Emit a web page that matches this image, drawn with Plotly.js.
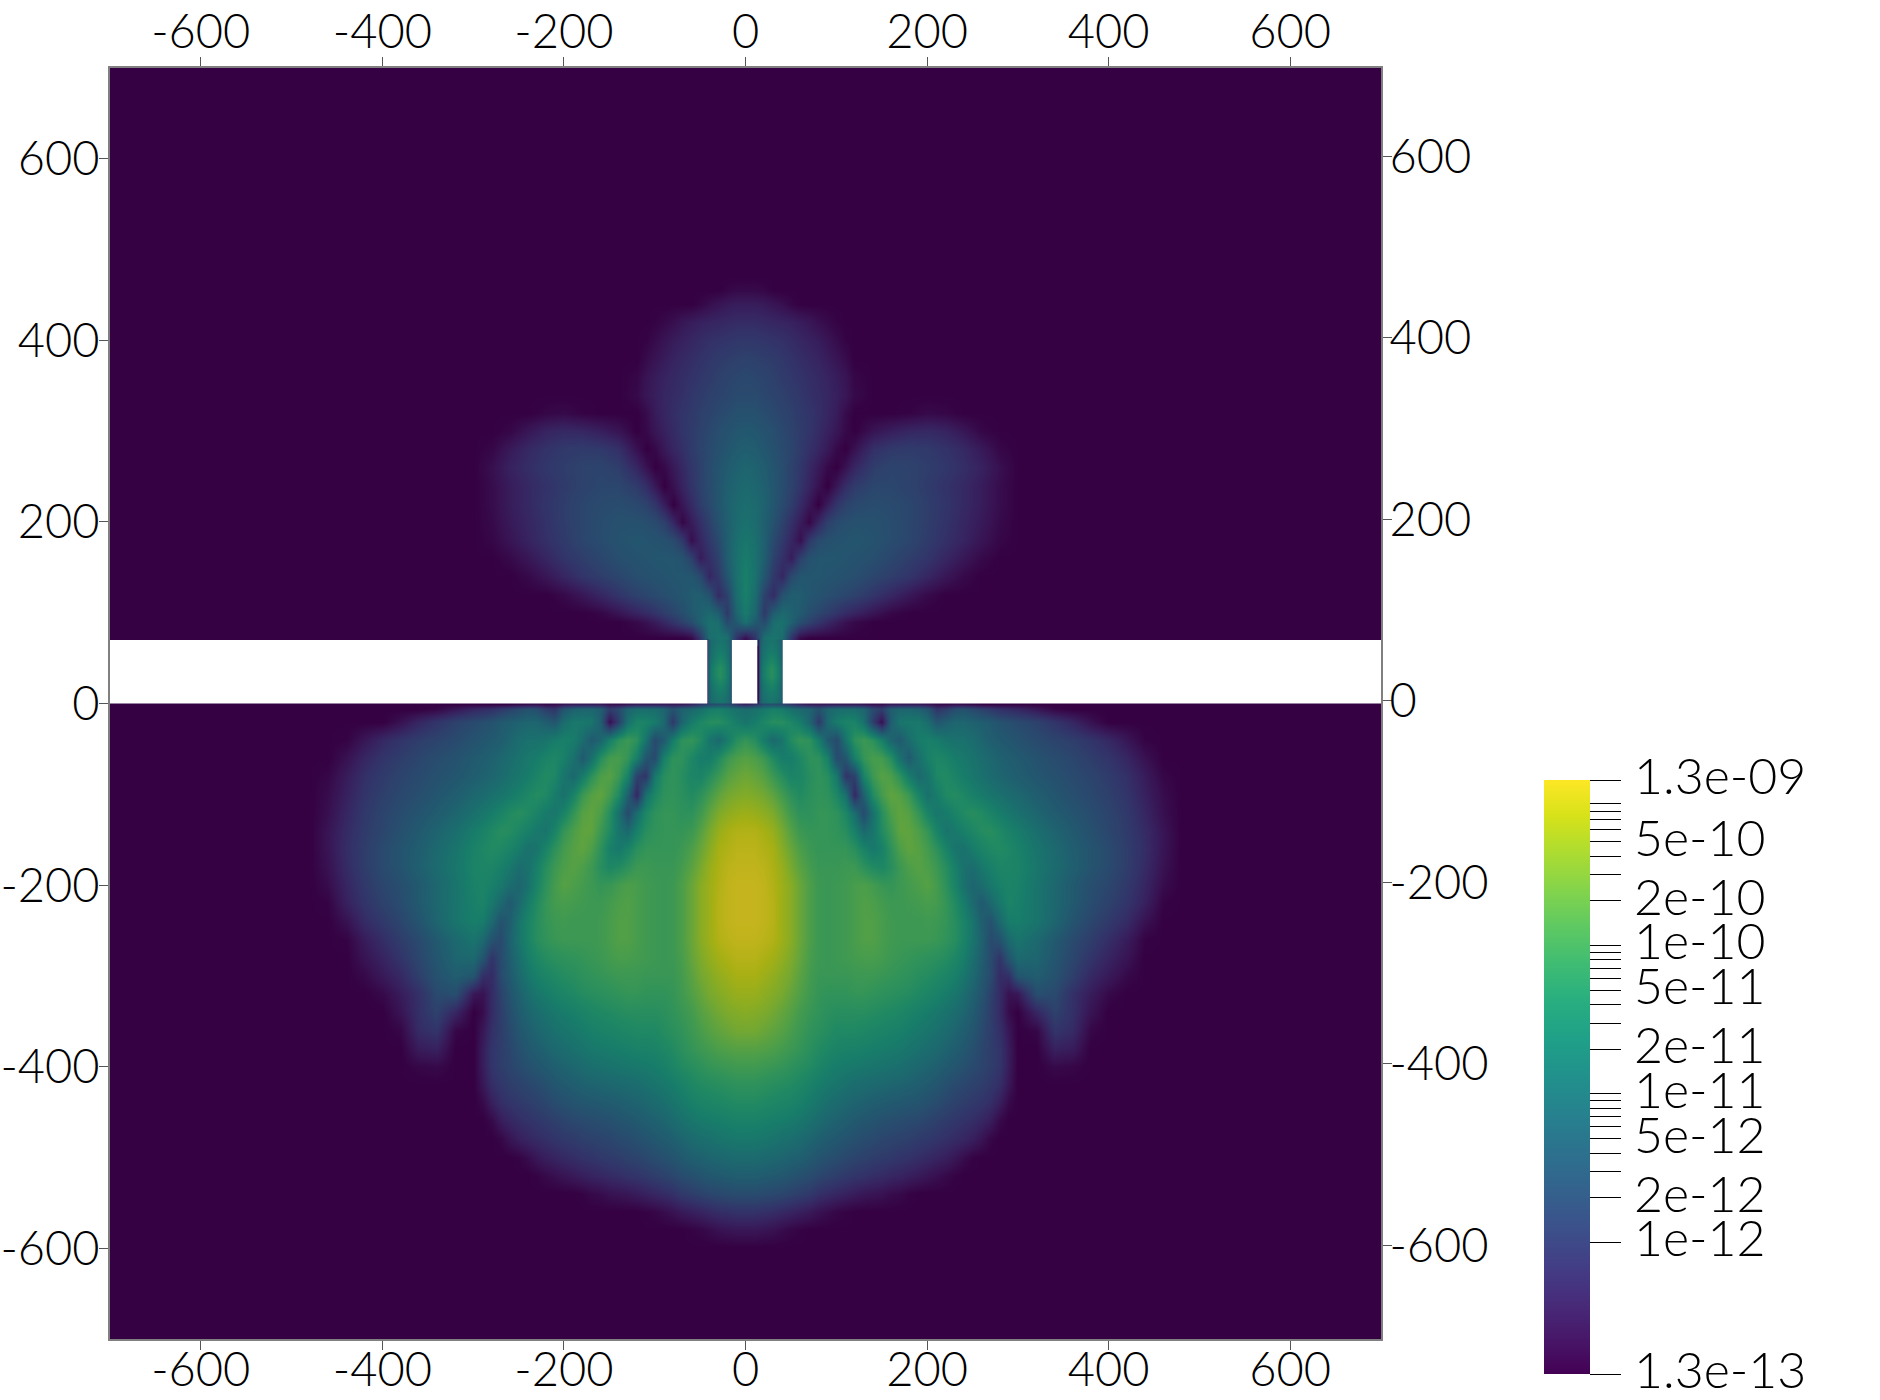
<!DOCTYPE html>
<html><head><meta charset="utf-8">
<script src="https://cdn.plot.ly/plotly-3.0.1.min.js"></script>
<style>html,body{margin:0;padding:0;background:#fff}</style></head>
<body><div id="chart" style="width:1880px;height:1400px"></div>
<script>
// Field strength, as a position (0-100) on the colour bar.
// The field is read on the right half (x >= 0) and is left/right symmetric; short rows end in zeros.
const belowX = [0,10,20,30,40,50,60,70,80,90,100,110,120,130,140,150,160,170,180,190,200,210,220,230,240,250,260,270,280,290,300,320,340,360,380,400,420,440,460,480,500];
const belowY = [0,-6,-20,-40,-60,-80,-100,-120,-140,-160,-180,-200,-220,-240,-260,-280,-300,-320,-340,-360,-380,-400,-420,-440,-460,-480,-500,-520,-540,-560,-580,-600];
const belowField = [
[10,18,30,32,28,20,12,8,8,8,8,8,8,6,4,4,8,8,8,8,6,3,2,4,3,2],
[48,50,54,58,56,50,46,42,34,44,48,48,48,44,30,24,40,44,44,42,36,20,24,32,34,30,26,22,18,16,14,8,2],
[52,56,62,66,66,62,56,44,22,46,56,60,60,50,25,5,40,52,54,54,48,36,40,44,44,42,40,38,34,32,30,26,20,14,6],
[70,66,56,46,52,64,70,68,56,38,30,52,68,72,68,58,44,38,48,56,58,56,52,50,50,48,44,40,38,36,34,30,27,24,20,15,8,1],
[78,76,72,64,56,56,62,68,68,58,30,36,58,70,75,74,66,50,38,50,58,62,60,56,54,51,48,45,42,40,38,34,31,28,24,20,14,6],
[83,81,78,72,66,60,61,66,69,66,54,20,26,60,72,78,76,68,56,46,52,62,64,60,56,53,50,47,44,42,40,36,33,30,27,23,18,10,2],
[87,86,84,80,74,68,64,67,69,68,62,50,14,42,64,74,80,78,72,60,50,56,63,65,62,58,55,52,50,47,45,40,36,32,29,25,20,12,4],
[92,91,89,86,80,73,68,68,70,70,68,62,48,30,50,66,76,80,78,70,60,53,55,60,64,66,64,60,56,53,50,44,39,35,31,27,22,14,5],
[96,96,94,91,85,78,72,70,70,70,69,66,58,46,52,64,72,80,80,76,70,60,52,54,58,62,65,66,63,59,56,49,43,38,33,28,23,16,7],
[98,98,96,94,88,82,76,72,70,70,70,70,67,60,54,58,68,76,80,78,74,68,60,52,50,56,60,63,64,62,59,52,46,40,35,30,24,17,7],
[99,99,98,95,91,85,79,74,71,71,71,72,72,68,64,62,66,72,76,78,76,72,66,58,50,48,54,58,61,61,60,53,47,41,35,30,24,16,6],
[100,100,99,96,92,88,82,76,72,71,72,73,75,76,74,71,70,72,74,76,78,74,68,60,50,44,48,54,58,60,59,52,45,38,32,28,22,14,4],
[100,100,99,97,92,88,82,76,72,71,72,73,75,77,76,74,72,72,73,74,75,74,70,64,56,46,38,46,54,60,58,52,45,38,31,26,20,12,1],
[100,100,99,97,92,88,82,76,72,71,72,73,75,77,77,75,73,72,72,72,73,72,70,66,60,52,40,34,46,56,57,52,44,35,28,22,16,6],
[99,99,98,96,92,88,82,76,72,71,72,73,75,77,77,75,73,72,72,72,72,71,69,66,60,52,42,30,34,46,52,46,38,30,24,17,10,1],
[97,97,95,93,90,86,81,75,72,71,72,73,74,75,75,74,72,71,70,69,68,67,65,62,57,49,40,30,20,36,46,44,36,28,20,13,7],
[94,94,92,90,87,84,79,74,71,71,71,71,72,72,72,71,70,69,68,66,65,63,61,58,53,46,38,30,16,18,36,40,34,25,15,9,3],
[91,91,89,87,85,81,77,73,70,69,69,69,70,70,69,68,67,66,65,63,61,59,56,53,48,42,35,26,16,6,8,32,30,18,10,3],
[88,87,86,84,81,78,74,71,69,67,66,66,66,66,65,64,63,62,60,58,56,54,51,48,44,39,32,24,16,4,0,14,26,18,7],
[84,84,82,80,78,75,72,69,67,65,63,63,63,62,61,60,59,58,56,54,52,50,47,44,40,36,30,24,18,8,0,2,20,16,2],
[78,78,77,76,74,72,70,67,64,62,60,59,59,58,57,56,55,54,52,50,48,46,43,40,37,33,28,24,20,10,0,0,12,10],
[73,73,72,71,70,68,66,64,61,58,56,55,54,53,52,51,50,49,47,45,43,41,38,36,33,30,27,24,20,10,0,0,3,2],
[68,68,67,66,65,64,62,59,56,54,52,50,48,47,46,45,44,43,42,40,38,36,33,30,28,26,24,21,17,8],
[64,64,63,62,61,60,58,55,52,49,47,45,43,42,40,39,38,37,36,35,33,31,28,26,24,22,20,17,11,3],
[59,59,58,57,56,55,53,50,47,44,42,40,38,36,35,33,32,31,30,29,27,25,23,21,19,17,14,10,3],
[54,54,53,52,50,49,47,44,41,39,37,35,33,31,30,28,27,26,25,23,22,20,18,16,14,11,7,2],
[47,47,46,45,44,42,41,38,35,33,31,29,27,26,24,23,22,20,19,17,15,13,11,8,4,1],
[40,40,39,38,37,35,33,31,28,26,24,22,20,19,17,16,14,13,11,9,7,5,3,1],
[31,31,30,29,28,26,24,22,18,16,14,12,10,8,7,6,4,3,1],
[19,19,18,17,15,13,11,9,6,4,2,1],
[8,8,7,6,4,2,1],
[0]
];

const aboveX = [0,10,20,30,40,50,60,70,80,90,100,110,120,140,160,180,200,220,240,260,280,300];
const aboveY = [72,90,100,120,140,160,180,200,220,240,260,280,300,320,340,360,380,400,420,440,455,470];
const aboveField = [
[5,20,50,52,48,20,3],
[50,38,30,48,50,42,32,26,20,15,10,6,3],
[55,44,22,40,46,42,38,32,28,24,20,16,13,7,2],
[58,48,26,16,34,40,39,36,34,32,30,28,26,20,14,8,3],
[58,50,36,22,14,30,36,36,36,35,34,33,32,28,24,20,14,8,3],
[56,50,40,26,18,10,26,34,36,36,36,35,34,32,28,24,20,14,8,3],
[53,49,41,30,22,14,5,22,30,33,34,35,36,34,31,28,23,18,13,7,2],
[50,47,41,34,26,18,10,2,14,25,30,32,33,33,31,28,24,19,14,9,3],
[48,46,42,36,30,24,16,8,0,10,20,26,29,31,30,28,24,20,15,10,4],
[46,44,41,36,31,26,20,13,6,0,8,17,23,28,28,26,23,19,15,10,4],
[44,42,39,35,31,26,21,15,9,3,0,6,14,24,27,26,24,21,17,12,5],
[40,39,36,33,30,27,23,18,14,9,3,0,6,18,22,23,22,19,15,9,2],
[37,36,34,32,29,26,23,20,16,12,8,3,0,7,11,14,15,13,8,2],
[33,33,31,29,27,25,22,20,17,14,10,4,0,0,0,1,3,2],
[30,30,28,27,25,23,21,18,16,14,11,8,3],
[29,28,27,25,23,21,19,17,15,13,10,7,2],
[26,25,24,23,21,19,17,15,13,10,7,4],
[21,21,20,19,18,16,14,12,10,7,4,1],
[16,16,15,14,13,12,10,8,5,3,1],
[10,10,9,7,5,2],
[3,3,2],
[0]
];

// Inside one slit of the wall
const slitX = [-42,-41,-38,-33,-28.5,-24,-19,-16,-15];
const slitY = [0,1,10,20,30,40,50,60,69,70];
const slitField = [
[8,36,46,50,52,50,46,36,8],
[8,36,46,50,52,50,46,36,8],
[6,38,48,53,55,53,48,38,6],
[5,38,50,57,60,57,50,38,5],
[5,40,54,62,66,62,54,40,5],
[5,40,54,62,66,62,54,40,5],
[5,38,50,57,60,57,50,38,5],
[5,38,48,53,55,53,48,38,5],
[6,36,46,50,52,50,46,36,6],
[6,36,46,50,52,50,46,36,6]
];

// The wall, in data units: [x0, x1]
const wallTop = 70;
const wallParts = [[-700,-42],[-15,13],[41,700]];

const axisTicks = [-600,-400,-200,0,200,400,600];
const axisLabels = ['-600','-400','-200','0','200','400','600'];
const barMin = 1.3e-13, barMax = 1.3e-9;
const barLabelTexts = ['1.3e-13','1e-12','2e-12','5e-12','1e-11','2e-11','5e-11','1e-10','2e-10','5e-10','1.3e-09'];
const barLabelValues = [1.3e-13,1e-12,2e-12,5e-12,1e-11,2e-11,5e-11,1e-10,2e-10,5e-10,1.3e-9];
const barMantissas = [1,2,3,4,5,6,7,8,9];
const barDecades = [-12,-11,-10];

const viridisStops = [[0,'#440154'],[0.0627,'#48186a'],[0.1255,'#472d7b'],[0.1882,'#424086'],[0.251,'#3b528b'],[0.3137,'#33638d'],[0.3765,'#2c728e'],[0.4392,'#26828e'],[0.502,'#21918c'],[0.5647,'#1fa088'],[0.6275,'#28ae80'],[0.6902,'#3fbc73'],[0.7529,'#5ec962'],[0.8157,'#84d44b'],[0.8784,'#addc30'],[0.9412,'#d8e219'],[1,'#fde725']];
const litFactor = 0.78; // the field itself is drawn darker than the bar

const logMin = Math.log10(barMin), logMax = Math.log10(barMax);
const toLog = v => logMin + (logMax - logMin) * v / 100;
const dim = hex => {
  const n = parseInt(hex.slice(1),16);
  return `rgb(${Math.round((n>>16&255)*litFactor)},${Math.round((n>>8&255)*litFactor)},${Math.round((n&255)*litFactor)})`;
};
const dimStops = viridisStops.map(s => [s[0], dim(s[1])]);

const fullX = h => h.slice(1).reverse().map(v => -v).concat(h);
const fullRow = h => r => {
  const p = h.map((_, i) => toLog(i < r.length ? r[i] : 0));
  return p.slice(1).reverse().concat(p);
};
const hm = (x, y, z) => ({type:'heatmap', x, y, z, zsmooth:'best', colorscale:dimStops, zmin:logMin, zmax:logMax, showscale:false, hoverinfo:'skip'});

const tickVals = [logMin, logMax];
barDecades.forEach(d => barMantissas.forEach(m => tickVals.push(Math.log10(m * Math.pow(10, d)))));

const font = {family:'Lato, "Open Sans", sans-serif', size:47, color:'#000', weight:300};
const barFont = Object.assign({}, font, {size:50});

// colour bar frame inside the plot's paper coordinates
const plotW = 1271, plotH = 1271, plotLeft = 110, plotBottom = 1339;
const barLeft = 1544, barBottom = 1374, barLen = 594;

const traces = [
  hm(fullX(belowX), belowY, belowField.map(fullRow(belowX))),
  hm(fullX(aboveX), aboveY, aboveField.map(fullRow(aboveX))),
  hm(slitX, slitY, slitField.map(r => r.map(toLog))),
  hm(slitX.map(v => -v - 0.5).reverse(), slitY, slitField.map(r => r.map(toLog).reverse())),
  {type:'scatter', mode:'markers', x:[null,null], y:[null,null], xaxis:'x2', yaxis:'y2', hoverinfo:'skip', showlegend:false,
   marker:{color:[logMin,logMax], colorscale:viridisStops, cmin:logMin, cmax:logMax, showscale:true,
     colorbar:{xref:'paper', yref:'paper', x:(barLeft-plotLeft)/plotW, xanchor:'left', y:(plotBottom-barBottom)/plotH, yanchor:'bottom',
       len:barLen, lenmode:'pixels', thickness:46, thicknessmode:'pixels', outlinewidth:0, borderwidth:0, xpad:0, ypad:0,
       tickmode:'array', tickvals:tickVals, ticktext:tickVals.map(() => ''), ticks:'outside', ticklen:31, tickwidth:1, tickcolor:'#000', tickfont:barFont}}}
];

const barAnnotations = barLabelTexts.map((t, i) => ({
  text:t, font:barFont, showarrow:false, xref:'paper', yref:'paper', xanchor:'left', yanchor:'middle',
  x:(1632-plotLeft)/plotW,
  y:(plotBottom-barBottom + barLen*(Math.log10(barLabelValues[i])-logMin)/(logMax-logMin))/plotH,
  yshift:5
}));

const axisBase = {range:[-700,700], tickmode:'array', tickvals:axisTicks, ticktext:axisLabels, ticks:'outside', ticklen:9, tickwidth:1, tickcolor:'#555', tickfont:font,
  showgrid:false, zeroline:false, showline:true, linecolor:'#808080', linewidth:2};

const shapes = wallParts.map(p => ({type:'rect', xref:'x', yref:'y', x0:p[0], x1:p[1], y0:0, y1:wallTop, fillcolor:'#fff', line:{width:0}, layer:'above'}));

Plotly.newPlot('chart', traces, {
  width:1880, height:1400, autosize:false,
  margin:{l:110, r:499, t:68, b:61, pad:0},
  paper_bgcolor:'#fff', plot_bgcolor:dim('#440154'), showlegend:false,
  xaxis:Object.assign({}, axisBase, {side:'bottom', anchor:'y', ticklabelstandoff:-20}),
  yaxis:Object.assign({}, axisBase, {side:'left', anchor:'x', ticklabelstandoff:-10}),
  xaxis2:Object.assign({}, axisBase, {side:'top', overlaying:'x', anchor:'y2', ticklabelstandoff:-10}),
  yaxis2:Object.assign({}, axisBase, {side:'right', overlaying:'y', anchor:'x2', range:[-703,697], ticklabelstandoff:-12}),
  shapes, annotations:barAnnotations
}, {displayModeBar:false, staticPlot:true});
</script></body></html>
